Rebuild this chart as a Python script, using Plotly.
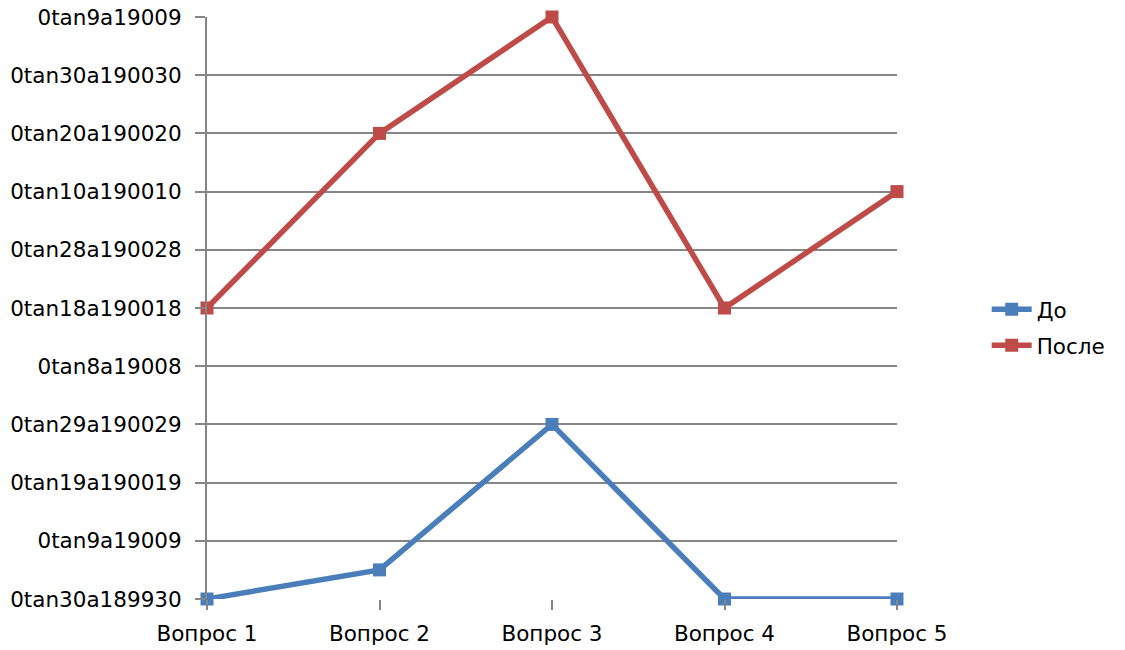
import plotly.graph_objects as go

# Questions on the category axis
questions = ["Вопрос 1", "Вопрос 2", "Вопрос 3", "Вопрос 4", "Вопрос 5"]

# Scores before and after
before = [0, 0.5, 3, 0, 0]
after = [5, 8, 10, 5, 7]

# Value-axis tick positions and their (date-formatted) labels
y_ticks = [0, 1, 2, 3, 4, 5, 6, 7, 8, 9, 10]
y_tick_labels = [
    "0tan30a189930", "0tan9a19009", "0tan19a190019", "0tan29a190029",
    "0tan8a19008", "0tan18a190018", "0tan28a190028", "0tan10a190010",
    "0tan20a190020", "0tan30a190030", "0tan9a19009",
]

FONT = "DejaVu Sans"
GRID = "#868686"

fig = go.Figure()
fig.add_trace(go.Scatter(
    x=questions, y=before, name="До", mode="lines+markers",
    legendgroup="before",
    line=dict(color="#4a7ebb", width=5.5),
    marker=dict(symbol="square", size=13, color="#4a7ebb"),
    cliponaxis=False,
))
fig.add_trace(go.Scatter(
    x=questions, y=after, name="После", mode="lines+markers",
    legendgroup="after",
    line=dict(color="#be4b48", width=5.5),
    marker=dict(symbol="square", size=13, color="#be4b48"),
    cliponaxis=False,
))

fig.update_layout(
    width=1125, height=650,
    margin=dict(l=207, r=228, t=17, b=51),
    paper_bgcolor="white", plot_bgcolor="white",
    font=dict(family=FONT, size=21, color="#000000"),
    showlegend=True,
    legend=dict(
        x=1.13, y=0.467, xanchor="left", yanchor="middle",
        font=dict(family=FONT, size=21.5),
        bgcolor="rgba(0,0,0,0)", itemwidth=40, tracegroupgap=5,
    ),
    xaxis=dict(
        type="category", range=[0, 4], automargin=False,
        showgrid=False, zeroline=False, showline=False,
        ticks="outside", ticklen=10, tickcolor=GRID, tickwidth=2,
        ticklabelstandoff=5,
        tickfont=dict(family=FONT, size=21.5),
    ),
    yaxis=dict(
        range=[0, 10], tickvals=y_ticks, ticktext=y_tick_labels,
        automargin=False,
        showgrid=True, gridcolor=GRID, gridwidth=2,
        zeroline=False, showline=True, linecolor=GRID, linewidth=2,
        ticks="outside", ticklen=10, tickcolor=GRID, tickwidth=2,
        ticklabelstandoff=9,
        tickfont=dict(family=FONT, size=21.5),
    ),
)

fig.write_html("out.html")
